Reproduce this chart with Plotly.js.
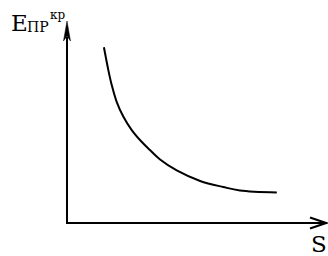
<!DOCTYPE html>
<html>
<head>
<meta charset="utf-8">
<script src="https://cdn.plot.ly/plotly-3.0.1.min.js"></script>
<style>html,body{margin:0;padding:0;background:#fff;}#chart{width:328px;height:256px;}</style>
</head>
<body>
<div id="chart"></div>
<script>
// Curve (arbitrary units: S along x, E_ПР^кр along y)
const sValues = [1.42, 1.59, 1.72, 1.91, 2.17, 2.49, 2.87, 3.19, 3.58, 4.22, 5.12, 6.01, 6.65, 8.07];
const eValues = [8.70, 7.57, 6.83, 6.00, 5.26, 4.60, 4.02, 3.61, 3.14, 2.60, 2.08, 1.78, 1.61, 1.51];
const axisMax = [10, 10];
const labelE = 'E';
const labelSub = 'ПР';
const labelSup = 'кр';
const labelS = 'S';

const serif = 'DejaVu Serif';

const trace = {
  x: sValues, y: eValues, type: 'scatter', mode: 'lines',
  line: {color: '#000', width: 2, shape: 'spline', smoothing: 1},
  hoverinfo: 'skip'
};

const hiddenAxis = {showgrid: false, zeroline: false, showline: false, showticklabels: false, ticks: '', fixedrange: true};

// plot-area geometry (pixels) used to express the axis arrows in paper units
const M = {l: 67, r: 1, t: 21, b: 33};
const W = 328 - M.l - M.r, H = 256 - M.t - M.b;
const px = d => +(d / W).toFixed(4);
const py = d => +(d / H).toFixed(4);

const yArrow = 'M0,1 L' + (-px(3.5)) + ',' + (1 - py(20)) + ' L0,' + (1 - py(15)) + ' L' + px(3.5) + ',' + (1 - py(20)) + ' Z';
const xArrow = 'M' + (1 - px(17)) + ',' + py(5.5) + ' L' + (1 - px(1)) + ',0 L' + (1 - px(17)) + ',' + (-py(5.5));

const layout = {
  width: 328, height: 256,
  margin: M,
  paper_bgcolor: '#fff', plot_bgcolor: '#fff',
  showlegend: false,
  xaxis: Object.assign({range: [0, axisMax[0]]}, hiddenAxis),
  yaxis: Object.assign({range: [0, axisMax[1]]}, hiddenAxis),
  shapes: [
    {type: 'line', xref: 'paper', yref: 'paper', x0: 0, y0: -py(1), x1: 0, y1: 1 - py(16), line: {color: '#000', width: 2}},
    {type: 'line', xref: 'paper', yref: 'paper', x0: -px(1), y0: 0, x1: 1 - px(2), y1: 0, line: {color: '#000', width: 2}},
    {type: 'path', xref: 'paper', yref: 'paper', path: yArrow, fillcolor: '#000', line: {color: '#000', width: 0.5}},
    {type: 'path', xref: 'paper', yref: 'paper', path: xArrow, line: {color: '#000', width: 2}}
  ],
  annotations: [
    {xref: 'paper', yref: 'paper', x: -0.225, y: 0.988, xanchor: 'left', yanchor: 'middle', showarrow: false,
     text: labelE, font: {family: serif, size: 23, color: '#000'}},
    {xref: 'paper', yref: 'paper', x: -0.1615, y: 0.972, xanchor: 'left', yanchor: 'middle', showarrow: false,
     text: labelSub, font: {family: serif, size: 14, color: '#000'}},
    {xref: 'paper', yref: 'paper', x: -0.0712, y: 1.029, xanchor: 'left', yanchor: 'middle', showarrow: false,
     text: labelSup, font: {family: serif, size: 12, color: '#000'}},
    {xref: 'paper', yref: 'paper', x: 0.932, y: -0.105, xanchor: 'left', yanchor: 'middle', showarrow: false,
     text: labelS, font: {family: serif, size: 23, color: '#000'}}
  ]
};

Plotly.newPlot('chart', [trace], layout, {staticPlot: true, displayModeBar: false});
</script>
</body>
</html>
